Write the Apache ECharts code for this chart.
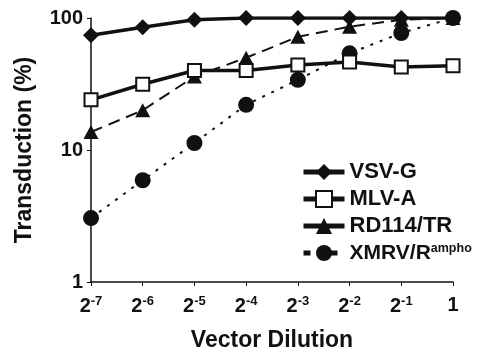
<!DOCTYPE html>
<html><head><meta charset="utf-8">
<script src="https://cdn.jsdelivr.net/npm/echarts@6/dist/echarts.min.js"></script>
<style>html,body{margin:0;padding:0;background:#fff}#c{width:479px;height:351px}</style>
</head><body><div id="c"></div>
<script>
const categories = ['-7','-6','-5','-4','-3','-2','-1','0'];
const vsvG  = [74, 85, 97, 100, 100, 100, 100, 100];
const mlvA  = [24, 31.5, 40, 40, 44, 46.5, 42.5, 43.5];
const rd114 = [13.7, 20, 36, 50, 72, 86, 97, 100];
const xmrv  = [3.05, 5.9, 11.3, 22, 34, 54, 77, 100];
const yTicks = [1, 10, 100];

const ink = '#111';
const FONT = '"Liberation Sans", Arial, sans-serif';
const chart = echarts.init(document.getElementById('c'), null, {renderer:'canvas'});
chart.setOption({
  animation:false,
  backgroundColor:'#fff',
  grid:{left:91,right:26,top:18,bottom:69,containLabel:false,outerBoundsMode:'none'},
  legend:{
    orient:'vertical', left:296, top:155, itemGap:3, itemWidth:41, itemHeight:20,
    textStyle:{fontFamily:FONT,fontWeight:'bold',fontSize:22,color:ink,lineHeight:24,
      rich:{b:{fontFamily:FONT,fontWeight:'bold',fontSize:22,color:ink,lineHeight:24},
            bx:{fontFamily:FONT,fontWeight:'bold',fontSize:21,color:ink,lineHeight:24},
            s:{fontFamily:FONT,fontWeight:'bold',fontSize:12.5,color:ink,padding:[0,0,9,0]}}},
    formatter:function(n){ if(n==='XMRV/Rampho') return '{bx|XMRV/R}{s|ampho}'; return '{b|'+n+'}'; },
    data:[
      {name:'VSV-G', lineStyle:{width:5,type:'solid'}},
      {name:'MLV-A', lineStyle:{width:5,type:'solid'}},
      {name:'RD114/TR', lineStyle:{width:5,type:'solid'}},
      {name:'XMRV/Rampho', lineStyle:{width:5,type:[7,20]}}
    ]
  },
  xAxis:{
    type:'category', data:categories, boundaryGap:false,
    name:'Vector Dilution', nameLocation:'middle', nameGap:47,
    nameTextStyle:{fontFamily:FONT,fontWeight:'bold',fontSize:23,color:ink},
    axisLine:{lineStyle:{color:ink,width:1.5}},
    axisTick:{show:true,interval:0,length:4,lineStyle:{color:ink}},
    axisLabel:{interval:0,margin:13,color:ink,
      formatter:function(v){ return v==='0' ? '{b|1}' : '{b|2}{s|'+v+'}'; },
      rich:{b:{fontFamily:FONT,fontWeight:'bold',fontSize:20,color:ink},
            s:{fontFamily:FONT,fontWeight:'bold',fontSize:13,color:ink,padding:[0,0,9,0]}}},
    splitLine:{show:false}
  },
  yAxis:{
    type:'log', logBase:10, min:1, max:100,
    name:'Transduction (%)', nameLocation:'middle', nameGap:55, nameRotate:90,
    nameTextStyle:{fontFamily:FONT,fontWeight:'bold',fontSize:23,color:ink},
    axisLine:{show:true,lineStyle:{color:ink,width:1.5}},
    axisTick:{show:true,length:4,inside:false,lineStyle:{color:ink}},
    axisLabel:{margin:8,fontFamily:FONT,fontWeight:'bold',fontSize:20,color:ink,
      formatter:function(v){ return yTicks.indexOf(Math.round(v))>=0 ? String(Math.round(v)) : ''; }},
    splitLine:{show:false}
  },
  series:[
    {name:'XMRV/Rampho', type:'line', data:xmrv, symbol:'circle', symbolSize:16, z:2,
      itemStyle:{color:ink}, lineStyle:{color:ink,width:2,type:[3,7]}},
    {name:'RD114/TR', type:'line', data:rd114, symbol:'triangle', symbolSize:[15,14], z:3,
      itemStyle:{color:ink}, lineStyle:{color:ink,width:2,type:[12,7]}},
    {name:'MLV-A', type:'line', data:mlvA, symbol:'rect', symbolSize:13, z:4,
      itemStyle:{color:'#fff',borderColor:ink,borderWidth:2}, lineStyle:{color:ink,width:3.5}},
    {name:'VSV-G', type:'line', data:vsvG, symbol:'diamond', symbolSize:[16,16], z:5,
      itemStyle:{color:ink}, lineStyle:{color:ink,width:3.5}}
  ]
});
</script></body></html>
